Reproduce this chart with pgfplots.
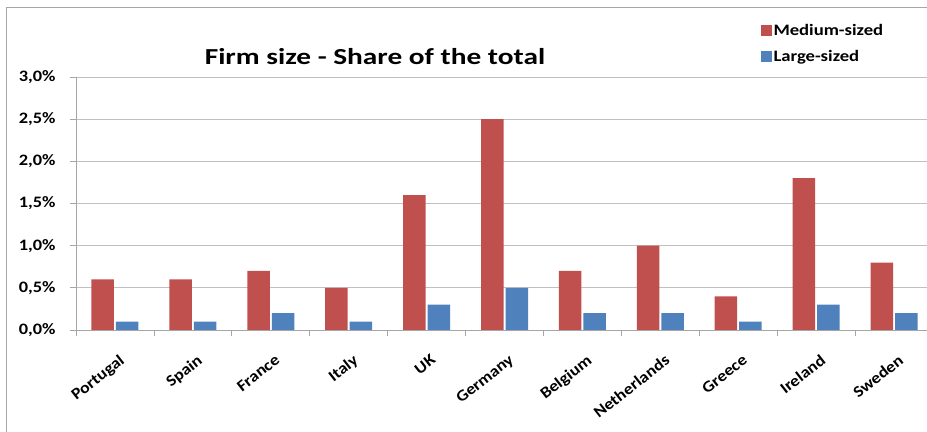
\documentclass[border=0pt]{standalone}
\usepackage{pgfplots}
\usepackage{pgfplotstable}
\pgfplotsset{compat=1.18}
\usepackage{fontspec}
\setmainfont{Carlito}
% the reference is a bit wider than tall, so the fonts are stretched
\newfontfamily\titlefont[FakeStretch=1.28]{Carlito}
\newfontfamily\legendfont[FakeStretch=1.17]{Carlito}
\newfontfamily\yfont[FakeStretch=1.15]{Carlito}
\newfontfamily\xfont[FakeStretch=1.12]{Carlito}

\definecolor{medred}{HTML}{C0504D}
\definecolor{largeblue}{HTML}{4F81BD}
\definecolor{gridgray}{HTML}{C0C0C0}
\definecolor{axisgray}{HTML}{A6A6A6}

% share of the total, in percent
\pgfplotstableread{
idx med large
0 0.6 0.1
1 0.6 0.1
2 0.7 0.2
3 0.5 0.1
4 1.6 0.3
5 2.5 0.5
6 0.7 0.2
7 1.0 0.2
8 0.4 0.1
9 1.8 0.3
10 0.8 0.2
}\firmdata

\begin{document}
\begin{tikzpicture}
\useasboundingbox (0bp,0bp) rectangle (927bp,432bp);
\draw[axisgray, line width=1bp] (6bp,0bp) -- (6bp,424bp) -- (927bp,424bp);
\node[font=\titlefont\fontsize{23}{27}\selectfont\bfseries] at (375bp,375bp) {Firm size - Share of the total};
\begin{axis}[
    at={(76bp,102bp)}, anchor=south west,
    scale only axis, width=857bp, height=253bp,
    ybar, bar width=22.5bp,
    xmin=-0.5, xmax=10.5, ymin=0, ymax=3.0,
    axis x line*=bottom, axis y line*=left,
    axis line style={axisgray, line width=0.8bp},
    ymajorgrids, grid style={gridgray, line width=0.8bp},
    tick align=outside, major tick length=6bp,
    tick style={axisgray, line width=0.8bp},
    ytick={0,0.5,1,1.5,2,2.5,3},
    yticklabels={{0,0\%},{0,5\%},{1,0\%},{1,5\%},{2,0\%},{2,5\%},{3,0\%}},
    yticklabel style={font=\yfont\fontsize{16}{19}\selectfont\bfseries, xshift=-11bp},
    xtick={-0.5,0.5,...,10.5},
    x tick label as interval,
    xticklabels={Portugal,Spain,France,Italy,UK,Germany,Belgium,Netherlands,Greece,Ireland,Sweden},
    xticklabel style={font=\xfont\fontsize{16}{19}\selectfont\bfseries, rotate=38, anchor=north east, inner sep=1bp, xshift=-7bp, yshift=-15bp},
    legend style={at={(0.795,1.225)}, anchor=north west, draw=none, fill=none,
        font=\legendfont\fontsize{16}{19}\selectfont\bfseries, row sep=9bp,
        nodes={inner sep=2bp}},
    legend cell align=left,
    legend image code/.code={\fill[#1] (0bp,-5.5bp) rectangle (11bp,5.5bp);},
]
\addplot[fill=medred, draw=none] table[x=idx, y=med] {\firmdata};
\addplot[fill=largeblue, draw=none] table[x=idx, y=large] {\firmdata};
\legend{Medium-sized, Large-sized}
\end{axis}
\end{tikzpicture}
\end{document}
